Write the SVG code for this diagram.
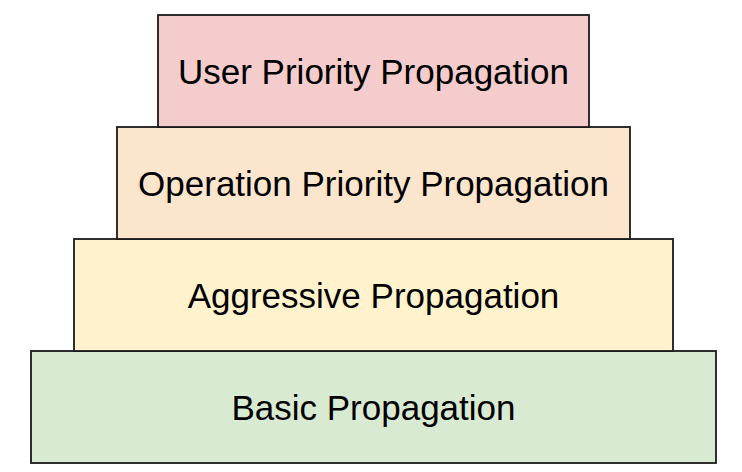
<svg xmlns="http://www.w3.org/2000/svg" width="742" height="472" viewBox="0 0 742 472">
<style>
.box{stroke:#1a1a1a;stroke-width:1.8}
.lbl{font-family:"Liberation Sans",Arial,sans-serif;font-size:35px;fill:#000;text-anchor:middle}
</style>
<rect width="742" height="472" fill="#fff"/>
<g id="basic">
<rect class="box" x="31" y="351" width="685" height="112" fill="#d9ead3"/>
<text class="lbl" x="373.5" y="420">Basic Propagation</text>
</g>
<g id="aggressive">
<rect class="box" x="74" y="239" width="599" height="112" fill="#fff2cc"/>
<text class="lbl" x="373.5" y="308">Aggressive Propagation</text>
</g>
<g id="operation">
<rect class="box" x="117" y="127" width="513" height="112" fill="#fce5cd"/>
<text class="lbl" x="373.5" y="196">Operation Priority Propagation</text>
</g>
<g id="user">
<rect class="box" x="158" y="15" width="431" height="112" fill="#f4cccc"/>
<text class="lbl" x="373.5" y="84">User Priority Propagation</text>
</g>
<g id="connectors"></g>
</svg>
